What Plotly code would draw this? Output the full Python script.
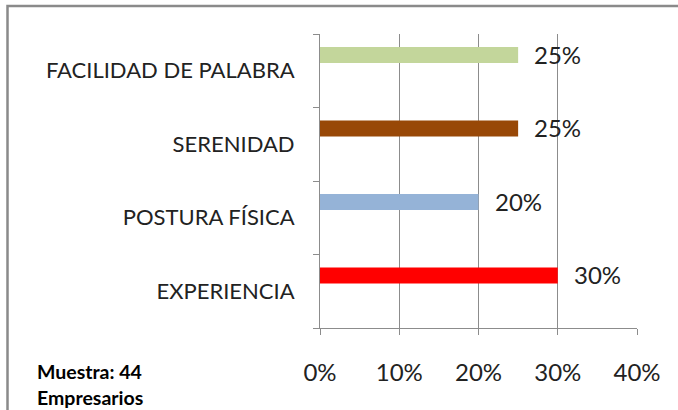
import plotly.graph_objects as go

categories = ["EXPERIENCIA", "POSTURA FÍSICA", "SERENIDAD", "FACILIDAD DE PALABRA"]
values = [0.30, 0.20, 0.25, 0.25]
colors = ["#FF0000", "#95B3D7", "#984807", "#C3D69B"]
x_ticks = [0, 0.1, 0.2, 0.3, 0.4]
x_tick_labels = ["0%", "10%", "20%", "30%", "40%"]
note_lines = ["Muestra: 44", "Empresarios"]

FONT = "Lato"
GRID = "#8C8C8C"

BAR_OFFSET = 0.105
BAR_WIDTH = 0.218

fig = go.Figure()
fig.add_trace(go.Bar(
    y=categories, x=values, orientation="h",
    marker=dict(color=colors, line=dict(width=0)),
    offset=BAR_OFFSET, width=BAR_WIDTH,
    hoverinfo="skip",
))

annotations = []
for i, (c, v) in enumerate(zip(categories, values)):
    annotations.append(dict(
        x=v, y=i + BAR_OFFSET + BAR_WIDTH / 2, xref="x", yref="y",
        text=f"{round(v*100)}%", showarrow=False,
        xanchor="left", yanchor="middle", xshift=14, yshift=1,
        font=dict(family=FONT, size=24, color="#222222"),
    ))

annotations.append(dict(
    x=(35 - 320) / 317, y=(328 - 371) / 294, xref="paper", yref="paper",
    text="<b>" + note_lines[0] + "</b>", showarrow=False,
    xanchor="left", yanchor="middle",
    font=dict(family=FONT, size=19.5, color="#000000"),
))
annotations.append(dict(
    x=(35 - 320) / 317, y=(328 - 397) / 294, xref="paper", yref="paper",
    text="<b>" + note_lines[1] + "</b>", showarrow=False,
    xanchor="left", yanchor="middle",
    font=dict(family=FONT, size=19.5, color="#000000"),
))

fig.update_layout(
    width=678, height=410,
    margin=dict(l=320, r=41, t=34, b=82),
    paper_bgcolor="white", plot_bgcolor="white",
    showlegend=False,
    annotations=annotations,
    shapes=[dict(
        type="rect", xref="paper", yref="paper",
        x0=(7.5 - 320) / 317, x1=(700 - 320) / 317,
        y0=(328 - 430) / 294, y1=(328 - 6) / 294,
        line=dict(color="#8A8A8A", width=2.5), fillcolor="rgba(0,0,0,0)",
        layer="below",
    )],
)

fig.update_xaxes(
    range=[0, 0.4], tickvals=x_ticks, ticktext=x_tick_labels,
    showgrid=True, gridcolor=GRID, gridwidth=1,
    showline=True, linecolor=GRID, linewidth=1,
    ticks="outside", ticklen=6, tickcolor=GRID,
    ticklabelstandoff=17,
    tickfont=dict(family=FONT, size=24, color="#222222"),
    zeroline=False, fixedrange=True,
)
fig.update_yaxes(
    type="category", categoryorder="array", categoryarray=categories,
    range=[-0.5, 3.5],
    showgrid=False, showline=True, linecolor=GRID, linewidth=1,
    ticks="outside", ticklen=6, tickcolor=GRID, tickson="boundaries",
    ticklabelstandoff=20,
    tickfont=dict(family=FONT, size=22, color="#222222"),
    fixedrange=True,
)

fig.write_html(
    "out.html",
    config={"displayModeBar": False},
    post_script="document.body.style.margin='0';document.body.style.overflow='hidden';",
)
